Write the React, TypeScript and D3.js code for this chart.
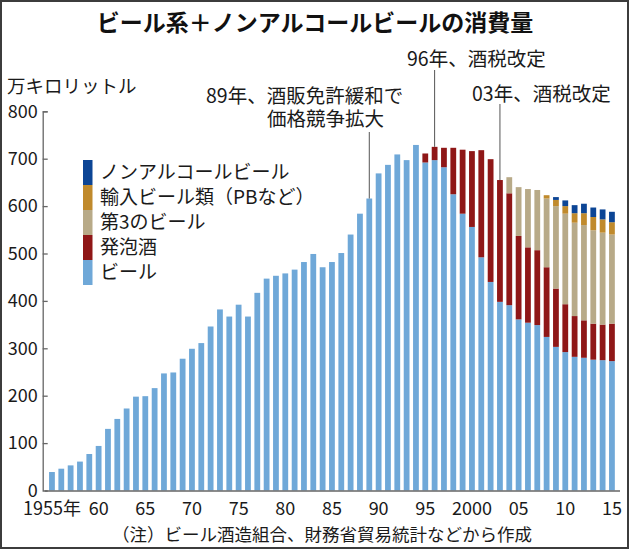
import { useEffect, useRef } from "react";
import * as d3 from "d3";

// 1955〜2015年
const years = d3.range(1955, 2016);

// 万キロリットル
const beer = [
  39, 46, 53, 61, 77, 94, 130, 151, 173, 198,
  199, 216, 247, 249, 278, 299, 311, 346, 382, 367,
  392, 367, 417, 447, 453, 458, 466, 482, 499, 471,
  482, 501, 540, 584, 616, 669, 687, 709, 697, 729,
  692, 697, 682, 625, 584, 556, 492, 440, 398, 391,
  361, 354, 349, 324, 303, 292, 282, 280, 276, 275,
  273,
];
const happoshu = [
  0, 0, 0, 0, 0, 0, 0, 0, 0, 0,
  0, 0, 0, 0, 0, 0, 0, 0, 0, 0,
  0, 0, 0, 0, 0, 0, 0, 0, 0, 0,
  0, 0, 0, 0, 0, 0, 0, 0, 0, 0,
  19, 28, 41, 98, 135, 160, 226, 259, 257, 236,
  176, 159, 158, 147, 123, 101, 86, 79, 76, 75,
  79,
];
const thirdBeer = [
  0, 0, 0, 0, 0, 0, 0, 0, 0, 0,
  0, 0, 0, 0, 0, 0, 0, 0, 0, 0,
  0, 0, 0, 0, 0, 0, 0, 0, 0, 0,
  0, 0, 0, 0, 0, 0, 0, 0, 0, 0,
  0, 0, 0, 0, 0, 0, 0, 0, 0, 34,
  103, 123, 127, 145, 174, 191, 197, 201, 197, 194,
  188,
];
const imported = [
  0, 0, 0, 0, 0, 0, 0, 0, 0, 0,
  0, 0, 0, 0, 0, 0, 0, 0, 0, 0,
  0, 0, 0, 0, 0, 0, 0, 0, 0, 0,
  0, 0, 0, 0, 0, 0, 0, 0, 0, 0,
  0, 0, 0, 0, 0, 0, 0, 0, 0, 0,
  0, 0, 0, 7, 13, 16, 20, 25, 28, 28,
  26,
];
const nonAlcohol = [
  0, 0, 0, 0, 0, 0, 0, 0, 0, 0,
  0, 0, 0, 0, 0, 0, 0, 0, 0, 0,
  0, 0, 0, 0, 0, 0, 0, 0, 0, 0,
  0, 0, 0, 0, 0, 0, 0, 0, 0, 0,
  0, 0, 0, 0, 0, 0, 0, 0, 0, 0,
  0, 0, 0, 0, 6, 12, 17, 20, 20, 21,
  22,
];

const seriesKeys = ["beer", "happoshu", "third", "imported", "nonAlcohol"];
const seriesLabels: Record<string, string> = {
  beer: "ビール",
  happoshu: "発泡酒",
  third: "第3のビール",
  imported: "輸入ビール類（PBなど）",
  nonAlcohol: "ノンアルコールビール",
};
const seriesColors: Record<string, string> = {
  beer: "#6fa8d8",
  happoshu: "#8f1717",
  third: "#b8aa88",
  imported: "#c08a2c",
  nonAlcohol: "#0c4595",
};

const yTicks = [0, 100, 200, 300, 400, 500, 600, 700, 800];
const xTicks = [1955, 1960, 1965, 1970, 1975, 1980, 1985, 1990, 1995, 2000, 2005, 2010, 2015];

const notes = [
  { year: 1989, lines: ["89年、酒販免許緩和で", "価格競争拡大"], xs: [206, 267], ys: [103, 126], lineTop: 132 },
  { year: 1996, lines: ["96年、酒税改定"], xs: [407], ys: [66], lineTop: 70 },
  { year: 2003, lines: ["03年、酒税改定"], xs: [472], ys: [101], lineTop: 104 },
];

type Row = { year: number; [k: string]: number };

const Chart = () => {
  const ref = useRef<SVGSVGElement>(null);

  useEffect(() => {
    if (!ref.current) return;
    document.body.style.margin = "0";
    const font = "'Noto Sans CJK JP', 'Noto Sans', sans-serif";
    const svg = d3.select(ref.current);
    svg.selectAll("*").remove();
    svg.style("font-family", font);

    const rows: Row[] = years.map((year, i) => ({
      year,
      beer: beer[i],
      happoshu: happoshu[i],
      third: thirdBeer[i],
      imported: imported[i],
      nonAlcohol: nonAlcohol[i],
    }));

    const x = d3
      .scaleBand<number>()
      .domain(years)
      .range([44.4, 619.5])
      .paddingInner(0.38)
      .paddingOuter(0.5);
    const y = d3.scaleLinear().domain([0, 800]).range([490.5, 111.3]);

    // frame
    svg
      .append("rect")
      .attr("x", 1)
      .attr("y", 1)
      .attr("width", 627)
      .attr("height", 547)
      .attr("fill", "white")
      .attr("stroke", "#3c3c3c")
      .attr("stroke-width", 2);

    const stacked = d3.stack<Row>().keys(seriesKeys)(rows);

    svg
      .append("g")
      .selectAll("g")
      .data(stacked)
      .join("g")
      .attr("fill", (d) => seriesColors[d.key])
      .selectAll("rect")
      .data((d) => d)
      .join("rect")
      .attr("x", (d) => x(d.data.year)!)
      .attr("width", x.bandwidth())
      .attr("y", (d) => y(d[1]))
      .attr("height", (d) => y(d[0]) - y(d[1]));

    // y axis line + ticks
    const yAxis = svg
      .append("g")
      .attr("transform", "translate(42.7,0)")
      .call(
        d3
          .axisRight(y)
          .tickValues(yTicks.slice(1))
          .tickSize(5)
          .tickFormat(() => "")
      );
    yAxis.selectAll("path, line").attr("stroke", "#666").attr("stroke-width", 1.3);

    // y labels
    const yLab = svg
      .append("g")
      .attr("transform", "translate(42.7,0)")
      .call(d3.axisLeft(y).tickValues(yTicks).tickSize(0).tickPadding(5));
    yLab.select(".domain").remove();
    yLab
      .selectAll("text")
      .attr("font-family", font)
      .attr("font-size", 18)
      .attr("fill", "#1a1a1a");

    // x axis
    const xAxis = svg
      .append("g")
      .attr("transform", "translate(0,490.5)")
      .call(
        d3
          .axisBottom(x)
          .tickValues(xTicks)
          .tickSize(0)
          .tickPadding(12)
          .tickFormat((d) => (d === 1955 ? "1955年" : d === 2000 ? "2000" : String(d).slice(2)))
      );
    xAxis.select(".domain").attr("stroke", "#666").attr("stroke-width", 1.3);
    xAxis
      .selectAll("text")
      .attr("font-family", font)
      .attr("font-size", 18)
      .attr("fill", "#1a1a1a");

    // legend
    const legend = svg
      .append("g")
      .selectAll("g")
      .data([...seriesKeys].reverse())
      .join("g")
      .attr("transform", (_d, i) => `translate(83,${160 + i * 25})`);
    legend
      .append("rect")
      .attr("width", 9.5)
      .attr("height", 25)
      .attr("fill", (d) => seriesColors[d]);
    legend
      .append("text")
      .attr("x", 17)
      .attr("y", 12.5)
      .attr("dy", "0.36em")
      .attr("font-size", 19)
      .attr("fill", "#1a1a1a")
      .text((d) => seriesLabels[d]);

    // title
    svg
      .append("text")
      .attr("x", 315)
      .attr("y", 31)
      .attr("text-anchor", "middle")
      .attr("font-size", 23)
      .attr("font-weight", "bold")
      .attr("fill", "#111")
      .text("ビール系＋ノンアルコールビールの消費量");

    svg
      .append("text")
      .attr("x", 7)
      .attr("y", 93)
      .attr("font-size", 18.5)
      .attr("fill", "#1a1a1a")
      .text("万キロリットル");

    // annotations
    const totals = new Map(rows.map((r) => [r.year, seriesKeys.reduce((s, k) => s + r[k], 0)]));
    notes.forEach((n) => {
      const cx = x(n.year)! + x.bandwidth() / 2;
      svg
        .append("line")
        .attr("x1", cx)
        .attr("x2", cx)
        .attr("y1", n.lineTop)
        .attr("y2", y(totals.get(n.year)!))
        .attr("stroke", "#555")
        .attr("stroke-width", 1);
      n.lines.forEach((t, i) => {
        svg
          .append("text")
          .attr("x", n.xs[i])
          .attr("y", n.ys[i])
          .attr("font-size", 19.5)
          .attr("fill", "#1a1a1a")
          .text(t);
      });
    });

    // footnote
    svg
      .append("text")
      .attr("x", 322)
      .attr("y", 541)
      .attr("text-anchor", "middle")
      .attr("font-size", 17.5)
      .attr("fill", "#1a1a1a")
      .text("（注）ビール酒造組合、財務省貿易統計などから作成");
  }, []);

  return <svg ref={ref} width={630} height={551} style={{ display: "block" }} />;
};

export default function App() {
  return <Chart />;
}
